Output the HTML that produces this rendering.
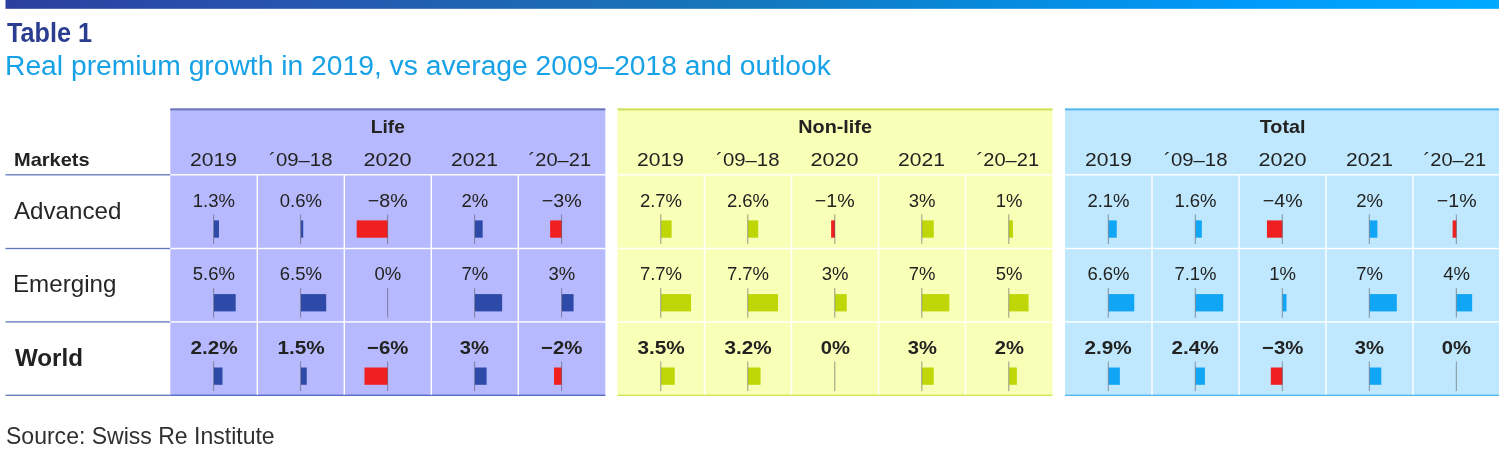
<!DOCTYPE html>
<html><head><meta charset="utf-8"><title>Table 1</title>
<style>
html,body{margin:0;padding:0;background:#fff;}
body{width:1500px;height:455px;position:relative;overflow:hidden;font-family:"Liberation Sans",sans-serif;color:#222220;}
.abs{position:absolute;}
svg{position:absolute;left:0;top:0;}
.t1{left:7px;top:18px;font-size:27.2px;font-weight:bold;color:#2b3d90;line-height:30px;white-space:nowrap;transform-origin:0 0;transform:scaleX(0.928);}
.t2{left:5.2px;top:50.8px;font-size:26.8px;color:#17a1e6;line-height:30px;white-space:nowrap;transform-origin:0 0;transform:scaleX(1.054);}
.c{text-align:center;white-space:nowrap;line-height:20px;}
.c span{display:inline-block;}
.hd{font-weight:bold;font-size:17.8px;}
.yr{font-size:18.5px;}
.v{font-size:18.5px;}
.vb{font-weight:bold;}
.lab{font-size:23.8px;line-height:28px;white-space:nowrap;transform-origin:0 0;transform:scaleX(1.015);color:#262624;}
.src{left:5.6px;top:422.0px;font-size:23.4px;line-height:28px;color:#303030;white-space:nowrap;transform-origin:0 0;transform:scaleX(0.984);}
</style></head><body>
<div class="abs t1">Table 1</div>
<div class="abs t2">Real premium growth in 2019, vs average 2009–2018 and outlook</div>

<svg width="1500" height="455" viewBox="0 0 1500 455">
<defs><linearGradient id="g" x1="0" y1="0" x2="1" y2="0"><stop offset="0" stop-color="#2b3f9e"/><stop offset="0.17" stop-color="#2753ae"/><stop offset="0.33" stop-color="#1e66b3"/><stop offset="0.5" stop-color="#1478bd"/><stop offset="0.67" stop-color="#068bde"/><stop offset="0.82" stop-color="#0199f8"/><stop offset="1" stop-color="#00aaff"/></linearGradient></defs>
<rect x="5.5" y="0" width="1493.5" height="8.8" fill="url(#g)"/>
<rect x="5.5" y="174.15" width="165" height="1.3" fill="#5f75bd"/>
<rect x="5.5" y="247.85" width="165" height="1.3" fill="#5f75bd"/>
<rect x="5.5" y="321.25" width="165" height="1.3" fill="#5f75bd"/>
<rect x="5.5" y="394.65" width="165" height="1.3" fill="#5f75bd"/>
<rect x="170.3" y="108.4" width="435" height="287.4" fill="#b7b9ff"/>
<rect x="170.3" y="108.4" width="435" height="2" fill="#6c76b6"/>
<rect x="170.3" y="394.70" width="435" height="1.1" fill="#3d57b4"/>
<rect x="170.3" y="174.10" width="435" height="1.4" fill="#fff"/>
<rect x="170.3" y="247.80" width="435" height="1.4" fill="#fff"/>
<rect x="170.3" y="321.20" width="435" height="1.4" fill="#fff"/>
<rect x="256.60" y="174.8" width="1.4" height="219.90" fill="#fff"/>
<rect x="343.60" y="174.8" width="1.4" height="219.90" fill="#fff"/>
<rect x="430.60" y="174.8" width="1.4" height="219.90" fill="#fff"/>
<rect x="517.60" y="174.8" width="1.4" height="219.90" fill="#fff"/>
<rect x="213.90" y="220.40" width="5.06" height="17.3" fill="#2e4aa8"/>
<rect x="213.10" y="214.40" width="1" height="29.6" fill="#5a5a64" fill-opacity="0.62"/>
<rect x="300.90" y="220.40" width="2.33" height="17.3" fill="#2e4aa8"/>
<rect x="300.10" y="214.40" width="1" height="29.6" fill="#5a5a64" fill-opacity="0.62"/>
<rect x="356.68" y="220.40" width="31.12" height="17.3" fill="#f02020"/>
<rect x="387.10" y="214.40" width="1" height="29.6" fill="#5a5a64" fill-opacity="0.62"/>
<rect x="474.90" y="220.40" width="7.78" height="17.3" fill="#2e4aa8"/>
<rect x="474.10" y="214.40" width="1" height="29.6" fill="#5a5a64" fill-opacity="0.62"/>
<rect x="550.13" y="220.40" width="11.67" height="17.3" fill="#f02020"/>
<rect x="561.10" y="214.40" width="1" height="29.6" fill="#5a5a64" fill-opacity="0.62"/>
<rect x="213.90" y="294.10" width="21.78" height="17.3" fill="#2e4aa8"/>
<rect x="213.10" y="288.10" width="1" height="29.6" fill="#5a5a64" fill-opacity="0.62"/>
<rect x="300.90" y="294.10" width="25.29" height="17.3" fill="#2e4aa8"/>
<rect x="300.10" y="288.10" width="1" height="29.6" fill="#5a5a64" fill-opacity="0.62"/>
<rect x="387.10" y="288.10" width="1" height="29.6" fill="#5a5a64" fill-opacity="0.62"/>
<rect x="474.90" y="294.10" width="27.23" height="17.3" fill="#2e4aa8"/>
<rect x="474.10" y="288.10" width="1" height="29.6" fill="#5a5a64" fill-opacity="0.62"/>
<rect x="561.90" y="294.10" width="11.67" height="17.3" fill="#2e4aa8"/>
<rect x="561.10" y="288.10" width="1" height="29.6" fill="#5a5a64" fill-opacity="0.62"/>
<rect x="213.90" y="367.50" width="8.56" height="17.3" fill="#2e4aa8"/>
<rect x="213.10" y="361.50" width="1" height="29.6" fill="#5a5a64" fill-opacity="0.62"/>
<rect x="300.90" y="367.50" width="5.83" height="17.3" fill="#2e4aa8"/>
<rect x="300.10" y="361.50" width="1" height="29.6" fill="#5a5a64" fill-opacity="0.62"/>
<rect x="364.46" y="367.50" width="23.34" height="17.3" fill="#f02020"/>
<rect x="387.10" y="361.50" width="1" height="29.6" fill="#5a5a64" fill-opacity="0.62"/>
<rect x="474.90" y="367.50" width="11.67" height="17.3" fill="#2e4aa8"/>
<rect x="474.10" y="361.50" width="1" height="29.6" fill="#5a5a64" fill-opacity="0.62"/>
<rect x="554.02" y="367.50" width="7.78" height="17.3" fill="#f02020"/>
<rect x="561.10" y="361.50" width="1" height="29.6" fill="#5a5a64" fill-opacity="0.62"/>
<rect x="617.5" y="108.4" width="435" height="287.4" fill="#f8ffb7"/>
<rect x="617.5" y="108.4" width="435" height="2" fill="#cde25a"/>
<rect x="617.5" y="394.70" width="435" height="1.1" fill="#c8e03c"/>
<rect x="617.5" y="174.10" width="435" height="1.4" fill="#fff"/>
<rect x="617.5" y="247.80" width="435" height="1.4" fill="#fff"/>
<rect x="617.5" y="321.20" width="435" height="1.4" fill="#fff"/>
<rect x="703.80" y="174.8" width="1.4" height="219.90" fill="#fff"/>
<rect x="790.80" y="174.8" width="1.4" height="219.90" fill="#fff"/>
<rect x="877.80" y="174.8" width="1.4" height="219.90" fill="#fff"/>
<rect x="964.80" y="174.8" width="1.4" height="219.90" fill="#fff"/>
<rect x="661.10" y="220.40" width="10.50" height="17.3" fill="#bfd706"/>
<rect x="660.30" y="214.40" width="1" height="29.6" fill="#5a5a64" fill-opacity="0.62"/>
<rect x="748.10" y="220.40" width="10.11" height="17.3" fill="#bfd706"/>
<rect x="747.30" y="214.40" width="1" height="29.6" fill="#5a5a64" fill-opacity="0.62"/>
<rect x="831.11" y="220.40" width="3.89" height="17.3" fill="#f02020"/>
<rect x="834.30" y="214.40" width="1" height="29.6" fill="#5a5a64" fill-opacity="0.62"/>
<rect x="922.10" y="220.40" width="11.67" height="17.3" fill="#bfd706"/>
<rect x="921.30" y="214.40" width="1" height="29.6" fill="#5a5a64" fill-opacity="0.62"/>
<rect x="1009.10" y="220.40" width="3.89" height="17.3" fill="#bfd706"/>
<rect x="1008.30" y="214.40" width="1" height="29.6" fill="#5a5a64" fill-opacity="0.62"/>
<rect x="661.10" y="294.10" width="29.95" height="17.3" fill="#bfd706"/>
<rect x="660.30" y="288.10" width="1" height="29.6" fill="#5a5a64" fill-opacity="0.62"/>
<rect x="748.10" y="294.10" width="29.95" height="17.3" fill="#bfd706"/>
<rect x="747.30" y="288.10" width="1" height="29.6" fill="#5a5a64" fill-opacity="0.62"/>
<rect x="835.10" y="294.10" width="11.67" height="17.3" fill="#bfd706"/>
<rect x="834.30" y="288.10" width="1" height="29.6" fill="#5a5a64" fill-opacity="0.62"/>
<rect x="922.10" y="294.10" width="27.23" height="17.3" fill="#bfd706"/>
<rect x="921.30" y="288.10" width="1" height="29.6" fill="#5a5a64" fill-opacity="0.62"/>
<rect x="1009.10" y="294.10" width="19.45" height="17.3" fill="#bfd706"/>
<rect x="1008.30" y="288.10" width="1" height="29.6" fill="#5a5a64" fill-opacity="0.62"/>
<rect x="661.10" y="367.50" width="13.62" height="17.3" fill="#bfd706"/>
<rect x="660.30" y="361.50" width="1" height="29.6" fill="#5a5a64" fill-opacity="0.62"/>
<rect x="748.10" y="367.50" width="12.45" height="17.3" fill="#bfd706"/>
<rect x="747.30" y="361.50" width="1" height="29.6" fill="#5a5a64" fill-opacity="0.62"/>
<rect x="834.30" y="361.50" width="1" height="29.6" fill="#5a5a64" fill-opacity="0.62"/>
<rect x="922.10" y="367.50" width="11.67" height="17.3" fill="#bfd706"/>
<rect x="921.30" y="361.50" width="1" height="29.6" fill="#5a5a64" fill-opacity="0.62"/>
<rect x="1009.10" y="367.50" width="7.78" height="17.3" fill="#bfd706"/>
<rect x="1008.30" y="361.50" width="1" height="29.6" fill="#5a5a64" fill-opacity="0.62"/>
<rect x="1065" y="108.4" width="434" height="287.4" fill="#bfe8ff"/>
<rect x="1065" y="108.4" width="434" height="2" fill="#55b6ee"/>
<rect x="1065" y="394.70" width="434" height="1.1" fill="#3aa8e6"/>
<rect x="1065" y="174.10" width="434" height="1.4" fill="#fff"/>
<rect x="1065" y="247.80" width="434" height="1.4" fill="#fff"/>
<rect x="1065" y="321.20" width="434" height="1.4" fill="#fff"/>
<rect x="1151.30" y="174.8" width="1.4" height="219.90" fill="#fff"/>
<rect x="1238.30" y="174.8" width="1.4" height="219.90" fill="#fff"/>
<rect x="1325.30" y="174.8" width="1.4" height="219.90" fill="#fff"/>
<rect x="1412.30" y="174.8" width="1.4" height="219.90" fill="#fff"/>
<rect x="1108.60" y="220.40" width="8.17" height="17.3" fill="#10a5f5"/>
<rect x="1107.80" y="214.40" width="1" height="29.6" fill="#5a5a64" fill-opacity="0.62"/>
<rect x="1195.60" y="220.40" width="6.22" height="17.3" fill="#10a5f5"/>
<rect x="1194.80" y="214.40" width="1" height="29.6" fill="#5a5a64" fill-opacity="0.62"/>
<rect x="1266.94" y="220.40" width="15.56" height="17.3" fill="#f02020"/>
<rect x="1281.80" y="214.40" width="1" height="29.6" fill="#5a5a64" fill-opacity="0.62"/>
<rect x="1369.60" y="220.40" width="7.78" height="17.3" fill="#10a5f5"/>
<rect x="1368.80" y="214.40" width="1" height="29.6" fill="#5a5a64" fill-opacity="0.62"/>
<rect x="1452.61" y="220.40" width="3.89" height="17.3" fill="#f02020"/>
<rect x="1455.80" y="214.40" width="1" height="29.6" fill="#5a5a64" fill-opacity="0.62"/>
<rect x="1108.60" y="294.10" width="25.67" height="17.3" fill="#10a5f5"/>
<rect x="1107.80" y="288.10" width="1" height="29.6" fill="#5a5a64" fill-opacity="0.62"/>
<rect x="1195.60" y="294.10" width="27.62" height="17.3" fill="#10a5f5"/>
<rect x="1194.80" y="288.10" width="1" height="29.6" fill="#5a5a64" fill-opacity="0.62"/>
<rect x="1282.60" y="294.10" width="3.89" height="17.3" fill="#10a5f5"/>
<rect x="1281.80" y="288.10" width="1" height="29.6" fill="#5a5a64" fill-opacity="0.62"/>
<rect x="1369.60" y="294.10" width="27.23" height="17.3" fill="#10a5f5"/>
<rect x="1368.80" y="288.10" width="1" height="29.6" fill="#5a5a64" fill-opacity="0.62"/>
<rect x="1456.60" y="294.10" width="15.56" height="17.3" fill="#10a5f5"/>
<rect x="1455.80" y="288.10" width="1" height="29.6" fill="#5a5a64" fill-opacity="0.62"/>
<rect x="1108.60" y="367.50" width="11.28" height="17.3" fill="#10a5f5"/>
<rect x="1107.80" y="361.50" width="1" height="29.6" fill="#5a5a64" fill-opacity="0.62"/>
<rect x="1195.60" y="367.50" width="9.34" height="17.3" fill="#10a5f5"/>
<rect x="1194.80" y="361.50" width="1" height="29.6" fill="#5a5a64" fill-opacity="0.62"/>
<rect x="1270.83" y="367.50" width="11.67" height="17.3" fill="#f02020"/>
<rect x="1281.80" y="361.50" width="1" height="29.6" fill="#5a5a64" fill-opacity="0.62"/>
<rect x="1369.60" y="367.50" width="11.67" height="17.3" fill="#10a5f5"/>
<rect x="1368.80" y="361.50" width="1" height="29.6" fill="#5a5a64" fill-opacity="0.62"/>
<rect x="1455.80" y="361.50" width="1" height="29.6" fill="#5a5a64" fill-opacity="0.62"/>
</svg>
<div class="abs hd" style="left:14.3px;top:150px;line-height:20px;transform-origin:0 0;transform:scaleX(1.125);">Markets</div>
<div class="abs lab" style="left:14px;top:197.2px;">Advanced</div>
<div class="abs lab" style="left:13px;top:270px;">Emerging</div>
<div class="abs lab" style="left:14.5px;top:344.3px;font-weight:bold;color:#222220;font-size:23.8px;transform:scaleX(1.015)">World</div>

<div class="abs c hd" style="left:170.3px;top:117px;width:435px;"><span style="transform:scaleX(1.08)">Life</span></div>
<div class="abs c yr" style="left:170.3px;top:149.5px;width:87px;"><span style="transform:scaleX(1.14)">2019</span></div>
<div class="abs c yr" style="left:257.3px;top:149.5px;width:87px;"><span style="transform:scaleX(1.1)">´09–18</span></div>
<div class="abs c yr" style="left:344.3px;top:149.5px;width:87px;"><span style="transform:scaleX(1.17)">2020</span></div>
<div class="abs c yr" style="left:431.3px;top:149.5px;width:87px;"><span style="transform:scaleX(1.14)">2021</span></div>
<div class="abs c yr" style="left:516.7px;top:149.5px;width:87px;"><span style="transform:scaleX(1.085)">´20–21</span></div>
<div class="abs c v" style="left:170.3px;top:190.5px;width:87px;"><span style="transform:scaleX(1.0)">1.3%</span></div>
<div class="abs c v" style="left:257.3px;top:190.5px;width:87px;"><span style="transform:scaleX(1.0)">0.6%</span></div>
<div class="abs c v" style="left:344.3px;top:190.5px;width:87px;"><span style="transform:scaleX(1.06)">−8%</span></div>
<div class="abs c v" style="left:431.3px;top:190.5px;width:87px;"><span style="transform:scaleX(1.0)">2%</span></div>
<div class="abs c v" style="left:518.3px;top:190.5px;width:87px;"><span style="transform:scaleX(1.06)">−3%</span></div>
<div class="abs c v" style="left:170.3px;top:264.2px;width:87px;"><span style="transform:scaleX(1.0)">5.6%</span></div>
<div class="abs c v" style="left:257.3px;top:264.2px;width:87px;"><span style="transform:scaleX(1.0)">6.5%</span></div>
<div class="abs c v" style="left:344.3px;top:264.2px;width:87px;"><span style="transform:scaleX(1.0)">0%</span></div>
<div class="abs c v" style="left:431.3px;top:264.2px;width:87px;"><span style="transform:scaleX(1.0)">7%</span></div>
<div class="abs c v" style="left:518.3px;top:264.2px;width:87px;"><span style="transform:scaleX(1.0)">3%</span></div>
<div class="abs c v vb" style="left:170.3px;top:338.3px;width:87px;"><span style="transform:scaleX(1.12)">2.2%</span></div>
<div class="abs c v vb" style="left:257.3px;top:338.3px;width:87px;"><span style="transform:scaleX(1.12)">1.5%</span></div>
<div class="abs c v vb" style="left:344.3px;top:338.3px;width:87px;"><span style="transform:scaleX(1.1)">−6%</span></div>
<div class="abs c v vb" style="left:431.3px;top:338.3px;width:87px;"><span style="transform:scaleX(1.09)">3%</span></div>
<div class="abs c v vb" style="left:518.3px;top:338.3px;width:87px;"><span style="transform:scaleX(1.1)">−2%</span></div>
<div class="abs c hd" style="left:617.5px;top:117px;width:435px;"><span style="transform:scaleX(1.113)">Non-life</span></div>
<div class="abs c yr" style="left:617.5px;top:149.5px;width:87px;"><span style="transform:scaleX(1.14)">2019</span></div>
<div class="abs c yr" style="left:704.5px;top:149.5px;width:87px;"><span style="transform:scaleX(1.1)">´09–18</span></div>
<div class="abs c yr" style="left:791.5px;top:149.5px;width:87px;"><span style="transform:scaleX(1.17)">2020</span></div>
<div class="abs c yr" style="left:878.5px;top:149.5px;width:87px;"><span style="transform:scaleX(1.14)">2021</span></div>
<div class="abs c yr" style="left:963.9px;top:149.5px;width:87px;"><span style="transform:scaleX(1.085)">´20–21</span></div>
<div class="abs c v" style="left:617.5px;top:190.5px;width:87px;"><span style="transform:scaleX(1.0)">2.7%</span></div>
<div class="abs c v" style="left:704.5px;top:190.5px;width:87px;"><span style="transform:scaleX(1.0)">2.6%</span></div>
<div class="abs c v" style="left:791.5px;top:190.5px;width:87px;"><span style="transform:scaleX(1.06)">−1%</span></div>
<div class="abs c v" style="left:878.5px;top:190.5px;width:87px;"><span style="transform:scaleX(1.0)">3%</span></div>
<div class="abs c v" style="left:965.5px;top:190.5px;width:87px;"><span style="transform:scaleX(1.0)">1%</span></div>
<div class="abs c v" style="left:617.5px;top:264.2px;width:87px;"><span style="transform:scaleX(1.0)">7.7%</span></div>
<div class="abs c v" style="left:704.5px;top:264.2px;width:87px;"><span style="transform:scaleX(1.0)">7.7%</span></div>
<div class="abs c v" style="left:791.5px;top:264.2px;width:87px;"><span style="transform:scaleX(1.0)">3%</span></div>
<div class="abs c v" style="left:878.5px;top:264.2px;width:87px;"><span style="transform:scaleX(1.0)">7%</span></div>
<div class="abs c v" style="left:965.5px;top:264.2px;width:87px;"><span style="transform:scaleX(1.0)">5%</span></div>
<div class="abs c v vb" style="left:617.5px;top:338.3px;width:87px;"><span style="transform:scaleX(1.12)">3.5%</span></div>
<div class="abs c v vb" style="left:704.5px;top:338.3px;width:87px;"><span style="transform:scaleX(1.12)">3.2%</span></div>
<div class="abs c v vb" style="left:791.5px;top:338.3px;width:87px;"><span style="transform:scaleX(1.09)">0%</span></div>
<div class="abs c v vb" style="left:878.5px;top:338.3px;width:87px;"><span style="transform:scaleX(1.09)">3%</span></div>
<div class="abs c v vb" style="left:965.5px;top:338.3px;width:87px;"><span style="transform:scaleX(1.09)">2%</span></div>
<div class="abs c hd" style="left:1065px;top:117px;width:435px;"><span style="transform:scaleX(1.113)">Total</span></div>
<div class="abs c yr" style="left:1065.0px;top:149.5px;width:87px;"><span style="transform:scaleX(1.14)">2019</span></div>
<div class="abs c yr" style="left:1152.0px;top:149.5px;width:87px;"><span style="transform:scaleX(1.1)">´09–18</span></div>
<div class="abs c yr" style="left:1239.0px;top:149.5px;width:87px;"><span style="transform:scaleX(1.17)">2020</span></div>
<div class="abs c yr" style="left:1326.0px;top:149.5px;width:87px;"><span style="transform:scaleX(1.14)">2021</span></div>
<div class="abs c yr" style="left:1411.4px;top:149.5px;width:87px;"><span style="transform:scaleX(1.085)">´20–21</span></div>
<div class="abs c v" style="left:1065.0px;top:190.5px;width:87px;"><span style="transform:scaleX(1.0)">2.1%</span></div>
<div class="abs c v" style="left:1152.0px;top:190.5px;width:87px;"><span style="transform:scaleX(1.0)">1.6%</span></div>
<div class="abs c v" style="left:1239.0px;top:190.5px;width:87px;"><span style="transform:scaleX(1.06)">−4%</span></div>
<div class="abs c v" style="left:1326.0px;top:190.5px;width:87px;"><span style="transform:scaleX(1.0)">2%</span></div>
<div class="abs c v" style="left:1413.0px;top:190.5px;width:87px;"><span style="transform:scaleX(1.06)">−1%</span></div>
<div class="abs c v" style="left:1065.0px;top:264.2px;width:87px;"><span style="transform:scaleX(1.0)">6.6%</span></div>
<div class="abs c v" style="left:1152.0px;top:264.2px;width:87px;"><span style="transform:scaleX(1.0)">7.1%</span></div>
<div class="abs c v" style="left:1239.0px;top:264.2px;width:87px;"><span style="transform:scaleX(1.0)">1%</span></div>
<div class="abs c v" style="left:1326.0px;top:264.2px;width:87px;"><span style="transform:scaleX(1.0)">7%</span></div>
<div class="abs c v" style="left:1413.0px;top:264.2px;width:87px;"><span style="transform:scaleX(1.0)">4%</span></div>
<div class="abs c v vb" style="left:1065.0px;top:338.3px;width:87px;"><span style="transform:scaleX(1.12)">2.9%</span></div>
<div class="abs c v vb" style="left:1152.0px;top:338.3px;width:87px;"><span style="transform:scaleX(1.12)">2.4%</span></div>
<div class="abs c v vb" style="left:1239.0px;top:338.3px;width:87px;"><span style="transform:scaleX(1.1)">−3%</span></div>
<div class="abs c v vb" style="left:1326.0px;top:338.3px;width:87px;"><span style="transform:scaleX(1.09)">3%</span></div>
<div class="abs c v vb" style="left:1413.0px;top:338.3px;width:87px;"><span style="transform:scaleX(1.09)">0%</span></div>
<div class="abs src">Source: Swiss Re Institute</div>
</body></html>
